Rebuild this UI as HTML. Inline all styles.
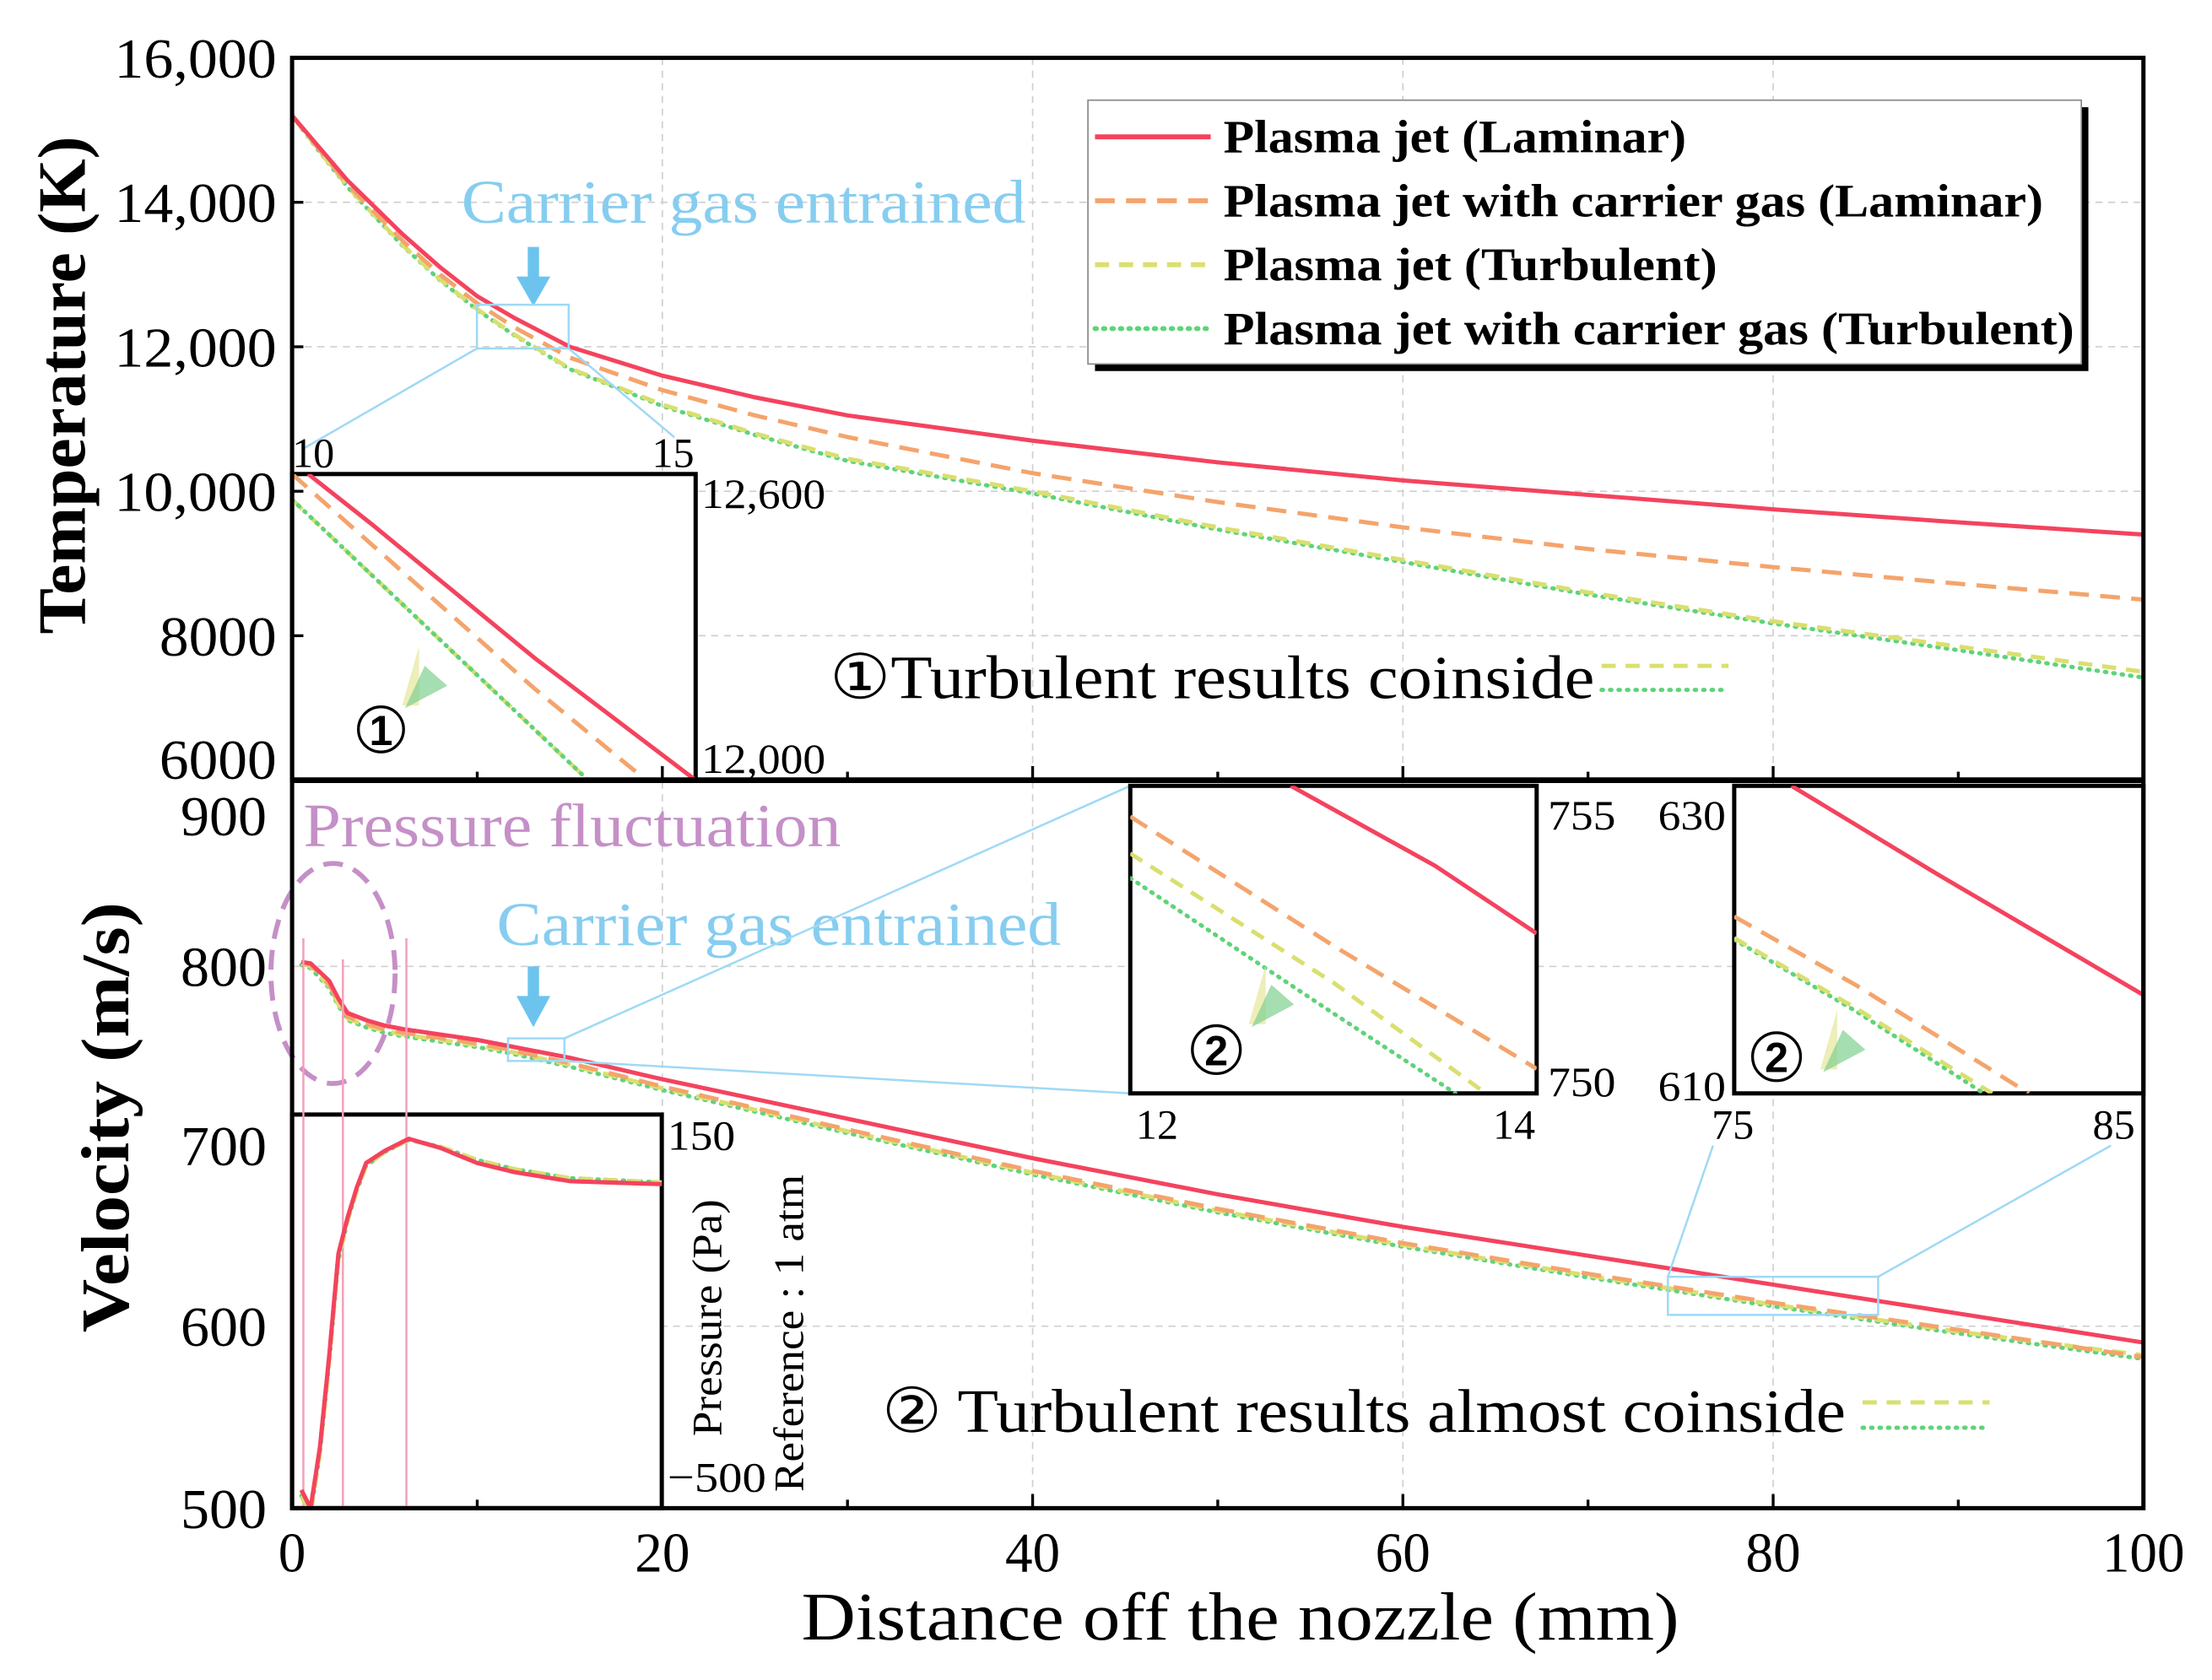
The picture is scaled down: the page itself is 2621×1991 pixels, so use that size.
<!DOCTYPE html>
<html><head><meta charset="utf-8"><style>
html,body{margin:0;padding:0;background:#fff}
svg{display:block;font-family:"Liberation Serif",serif}
</style></head><body>
<svg id="chart" width="2621" height="1991" viewBox="0 0 1567.6 1190.8" preserveAspectRatio="none" xmlns="http://www.w3.org/2000/svg">
<defs>
<clipPath id="cTop"><rect x="207" y="41" width="1312" height="512"/></clipPath>
<clipPath id="cBot"><rect x="207" y="553" width="1312" height="516"/></clipPath>
<clipPath id="cI1"><rect x="207" y="336" width="286" height="217"/></clipPath>
<clipPath id="cI2a"><rect x="801" y="557" width="288" height="218"/></clipPath>
<clipPath id="cI2b"><rect x="1229" y="557" width="290" height="218"/></clipPath>
<clipPath id="cP"><rect x="207" y="790" width="262" height="279"/></clipPath>
</defs>
<g id="grid" stroke="#cfcfcf" stroke-width="1" stroke-dasharray="5 4"></g>
<g id="main"></g>
<g id="annot">
<text x="327" y="158" font-size="44" fill="#86cdf0" textLength="400" lengthAdjust="spacingAndGlyphs">Carrier gas entrained</text>
<line x1="378" y1="175" x2="378" y2="198" stroke="#6cc4ee" stroke-width="8"/>
<polygon points="366,196 390,196 378,217" fill="#6cc4ee"/>
<rect x="338" y="216" width="65" height="31" fill="none" stroke="#9fd9f5" stroke-width="1.5"/>
<line x1="338" y1="247" x2="215" y2="318" stroke="#9fd9f5" stroke-width="1.5"/>
<line x1="403" y1="247" x2="478" y2="310" stroke="#9fd9f5" stroke-width="1.5"/>
<text x="215" y="600" font-size="44" fill="#c58fc8" textLength="381" lengthAdjust="spacingAndGlyphs">Pressure fluctuation</text>
<ellipse cx="236" cy="690" rx="44" ry="78" fill="none" stroke="#c58fc8" stroke-width="3.5" stroke-dasharray="14 8"/>
<text x="352" y="670" font-size="44" fill="#86cdf0" textLength="400" lengthAdjust="spacingAndGlyphs">Carrier gas entrained</text>
<line x1="378" y1="685" x2="378" y2="708" stroke="#6cc4ee" stroke-width="8"/>
<polygon points="366,706 390,706 378,728" fill="#6cc4ee"/>
<rect x="360" y="736" width="40" height="16" fill="none" stroke="#9fd9f5" stroke-width="1.5"/>
<line x1="400" y1="736" x2="801" y2="557" stroke="#9fd9f5" stroke-width="1.5"/>
<line x1="400" y1="752" x2="801" y2="775" stroke="#9fd9f5" stroke-width="1.5"/>
<rect x="1182" y="905" width="149" height="27" fill="none" stroke="#9fd9f5" stroke-width="1.5"/>
<line x1="1182" y1="905" x2="1214" y2="812" stroke="#9fd9f5" stroke-width="1.5"/>
<line x1="1331" y1="905" x2="1496" y2="812" stroke="#9fd9f5" stroke-width="1.5"/>
<text x="588" y="495" font-size="44" fill="#000" textLength="542" lengthAdjust="spacingAndGlyphs">①Turbulent results coinside</text>
<line x1="1135" y1="472" x2="1225" y2="472" stroke="#d9df6f" stroke-width="3" stroke-dasharray="10 7"/>
<line x1="1135" y1="489" x2="1225" y2="489" stroke="#5fd37a" stroke-width="3" stroke-dasharray="1 5" stroke-linecap="round"/>
<text x="625" y="1015" font-size="44" fill="#000" textLength="683" lengthAdjust="spacingAndGlyphs">② Turbulent results almost coinside</text>
<line x1="1320" y1="994" x2="1410" y2="994" stroke="#d9df6f" stroke-width="3" stroke-dasharray="10 7"/>
<line x1="1320" y1="1012" x2="1410" y2="1012" stroke="#5fd37a" stroke-width="3" stroke-dasharray="1 5" stroke-linecap="round"/>
</g>
<g id="insets"></g>
<g id="axes" font-size="34"></g>
<g id="legend">
<rect x="776" y="76" width="704" height="187" fill="#000"/>
<rect x="771" y="71" width="704" height="187" fill="#fff" stroke="#888" stroke-width="1"/>
</g>
</svg>
<script>
const tX = [0,1,2,3,4,5,6,8,10,12,15,20,25,30,40,50,60,70,80,90,100];
const tLam = [15200,14900,14600,14300,14050,13800,13550,13100,12700,12400,12000,11600,11300,11050,10700,10400,10150,9950,9750,9570,9400];
const tLamCG = [15200,14880,14560,14250,13980,13720,13460,13000,12600,12270,11850,11400,11050,10750,10250,9850,9500,9200,8950,8720,8500];
const tTur = [15200,14870,14540,14220,13940,13670,13400,12930,12520,12170,11700,11200,10800,10450,10000,9500,9050,8600,8200,7850,7500];
const tTurCG = [15200,14860,14530,14210,13930,13660,13390,12920,12510,12160,11690,11180,10780,10420,9970,9470,9020,8570,8170,7800,7420];
const vX = [0.5,1,2,2.5,3,4,5,6,8,10,12,15,20,25,30,40,50,60,70,80,90,100];
const vLam = [803,802,792,782,774,770,767,765,762,759,755,749,737,726,715,693,673,655,639,623,607,591];
const vLamCG = [803,801,790,780,772,768,765,763,760,757,753,746,733,721,709,686,665,646,629,613,598,583];
const vTur = [802,800,789,779,771,767,764,762,759,756,752,745,732,720,708,685,664,645,628,612,597,584];
const vTurCG = [801,799,788,778,770,766,763,761,758,755,751,744,731,719,707,684,663,644,627,611,596,582];
const pX = [0.5,1,1.5,2,2.5,3,3.5,4,5,6.3,8,10,12,15,20];
const pVal = [-470,-500,-400,-250,-80,-20,30,70,90,110,95,70,55,40,35];
const pValCG = [-480,-510,-410,-260,-90,-25,25,65,88,108,97,75,60,45,38];
const i1LamX = [10.2,11,12,13,14,15], i1Lam = [12600,12500,12370,12240,12120,12000];
const i1CgX = [10,11,12,13,14,14.7], i1Cg = [12600,12460,12320,12180,12050,11960];
const i1TurX = [10,11,12,13,13.8], i1Tur = [12550,12400,12250,12100,11980];
const i2aLamX = [12.79,13.5,14], i2aLam = [755,753.7,752.6];
const i2aCgX = [12,13,14], i2aCg = [754.5,752.4,750.4];
const i2aTurX = [12,13,13.75], i2aTur = [753.9,751.8,750];
const i2aTcgX = [12,13,13.6], i2aTcg = [753.5,751.3,750];
const i2bLamX = [76.4,80,85], i2bLam = [630,624.2,616.4];
const i2bCgX = [75,78,82.2], i2bCg = [621.5,617,610];
const i2bTurX = [75,78,81.3], i2bTur = [620.1,615.5,610];
const i2bTcgX = [75,78,81.1], i2bTcg = [620,615.3,610];
const xTicks = [0,20,40,60,80,100];
const tTicks = [6000,8000,10000,12000,14000,16000];
const tTickLabels = ['6000','8000','10,000','12,000','14,000','16,000'];
const vTicks = [500,600,700,800,900];
const vTickPos = [1069,940,812,685,578];
const legendLabels = ['Plasma jet (Laminar)','Plasma jet with carrier gas (Laminar)','Plasma jet (Turbulent)','Plasma jet with carrier gas (Turbulent)'];
const legendWidths = [328,581,350,603];

const NS='http://www.w3.org/2000/svg';
const X = x => 207 + x*13.12;
const YT = v => 41 + (16000-v)/10000*512;
function YV(v){
  for(let i=0;i<vTicks.length-1;i++){ if(v<=vTicks[i+1]||i===vTicks.length-2){
    const t=(v-vTicks[i])/(vTicks[i+1]-vTicks[i]); return vTickPos[i]+t*(vTickPos[i+1]-vTickPos[i]); } }
}
const I1X=x=>207+(x-10)/5*286, I1Y=v=>553-(v-12000)/600*217;
const I2aX=x=>801+(x-12)/2*288, I2aY=v=>775-(v-750)/5*218;
const I2bX=x=>1229+(x-75)/10*290, I2bY=v=>775-(v-610)/20*218;
const PX=x=>207+x*13.12, PY=p=>790+(150-p)/650*279;
const STY = {
  lam:{c:'#f4435e',w:3,d:null,cap:'butt'},
  cg:{c:'#f4a46c',w:3,d:'14 8',cap:'butt'},
  tur:{c:'#d9df6f',w:3,d:'10 7',cap:'butt'},
  tcg:{c:'#5fd37a',w:3,d:'1 5',cap:'round'}
};
function el(tag,attrs,parent){const e=document.createElementNS(NS,tag);for(const k in attrs)e.setAttribute(k,attrs[k]);parent.appendChild(e);return e;}
function line(xs,ys,fx,fy,st,clip,parent,name){
  const d=xs.map((x,i)=>(i?'L':'M')+fx(x).toFixed(2)+' '+fy(ys[i]).toFixed(2)).join(' ');
  const s=STY[st];
  const p=el('path',{d:d,fill:'none',stroke:s.c,'stroke-width':s.w,'stroke-linecap':s.cap,'stroke-linejoin':'round','clip-path':'url(#'+clip+')'},parent);
  if(s.d)p.setAttribute('stroke-dasharray',s.d);
  
  
  return p;
}
const grid=document.getElementById('grid');
[20,40,60,80].forEach(x=>{el('line',{x1:X(x),x2:X(x),y1:41,y2:1069},grid);});
[8000,10000,12000,14000].forEach(v=>{el('line',{x1:207,x2:1519,y1:YT(v),y2:YT(v)},grid);});
[600,800].forEach(v=>{el('line',{x1:207,x2:1519,y1:YV(v),y2:YV(v)},grid);});

const main=document.getElementById('main');
line(tX,tTurCG,X,YT,'tcg','cTop',main,'temp-turbulent-carrier-line');
line(tX,tTur,X,YT,'tur','cTop',main,'temp-turbulent-line');
line(tX,tLamCG,X,YT,'cg','cTop',main,'temp-laminar-carrier-line');
line(tX,tLam,X,YT,'lam','cTop',main,'temp-laminar-line');
line(vX,vTurCG,X,YV,'tcg','cBot',main,'vel-turbulent-carrier-line');
line(vX,vTur,X,YV,'tur','cBot',main,'vel-turbulent-line');
line(vX,vLamCG,X,YV,'cg','cBot',main,'vel-laminar-carrier-line');
line(vX,vLam,X,YV,'lam','cBot',main,'vel-laminar-line');

const ins=document.getElementById('insets');
function box(x,y,w,h,name){const r=el('rect',{x:x,y:y,width:w,height:h,fill:'#fff',stroke:'#000','stroke-width':3},ins);
  
  }
function txt(x,y,s,size,parent,name,extra,len){const t=el('text',Object.assign({x:x,y:y,'font-size':size},extra||{}),parent);t.textContent=s;
  if(len){t.setAttribute('textLength',len);t.setAttribute('lengthAdjust','spacingAndGlyphs');}
  
  return t;}
function arrowMark(cx,cy){el('polygon',{points:(cx-10)+','+(cy+20)+' '+(cx+2)+','+(cy-22)+' '+(cx+2)+','+(cy+20),fill:'#e9eaa6',opacity:0.8},ins);
  el('polygon',{points:(cx-8)+','+(cy+22)+' '+(cx+6)+','+(cy-8)+' '+(cx+22)+','+(cy+6),fill:'#7fd08f',opacity:0.7},ins);}
// inset 1
box(207,336,286,217,'inset-temperature-zoom');
line(i1TurX,i1Tur,I1X,I1Y,'tur','cI1',ins,'inset1-turbulent');
line(i1TurX,i1Tur,I1X,I1Y,'tcg','cI1',ins,'inset1-turbulent-carrier');
line(i1CgX,i1Cg,I1X,I1Y,'cg','cI1',ins,'inset1-laminar-carrier');
line(i1LamX,i1Lam,I1X,I1Y,'lam','cI1',ins,'inset1-laminar');
arrowMark(295,480);
el('circle',{cx:270,cy:517,r:16,fill:'none',stroke:'#000','stroke-width':2},ins);
txt(270,528,'1',30,ins,'inset1-marker',{'text-anchor':'middle','font-weight':'bold','font-family':'Liberation Sans, sans-serif'});
txt(207,331,'10',30,ins,'inset1-x-min',null,30);
txt(462,331,'15',30,ins,'inset1-x-max',null,30);
txt(497,360,'12,600',30,ins,'inset1-y-max',null,88);
txt(497,548,'12,000',30,ins,'inset1-y-min',null,88);
// inset 2a
box(801,557,288,218,'inset-velocity-zoom-a');
line(i2aTcgX,i2aTcg,I2aX,I2aY,'tcg','cI2a',ins,'inset2a-turbulent-carrier');
line(i2aTurX,i2aTur,I2aX,I2aY,'tur','cI2a',ins,'inset2a-turbulent');
line(i2aCgX,i2aCg,I2aX,I2aY,'cg','cI2a',ins,'inset2a-laminar-carrier');
line(i2aLamX,i2aLam,I2aX,I2aY,'lam','cI2a',ins,'inset2a-laminar');
arrowMark(895,706);
el('circle',{cx:862,cy:744,r:17,fill:'none',stroke:'#000','stroke-width':2},ins);
txt(862,755,'2',30,ins,'inset2a-marker',{'text-anchor':'middle','font-weight':'bold','font-family':'Liberation Sans, sans-serif'});
txt(1097,588,'755',30,ins,'inset2a-y-max',null,48);
txt(1097,777,'750',30,ins,'inset2a-y-min',null,48);
txt(805,807,'12',30,ins,'inset2a-x-min',null,30);
txt(1058,807,'14',30,ins,'inset2a-x-max',null,30);
// inset 2b
box(1229,557,290,218,'inset-velocity-zoom-b');
line(i2bTcgX,i2bTcg,I2bX,I2bY,'tcg','cI2b',ins,'inset2b-turbulent-carrier');
line(i2bTurX,i2bTur,I2bX,I2bY,'tur','cI2b',ins,'inset2b-turbulent');
line(i2bCgX,i2bCg,I2bX,I2bY,'cg','cI2b',ins,'inset2b-laminar-carrier');
line(i2bLamX,i2bLam,I2bX,I2bY,'lam','cI2b',ins,'inset2b-laminar');
arrowMark(1300,738);
el('circle',{cx:1259,cy:749,r:17,fill:'none',stroke:'#000','stroke-width':2},ins);
txt(1259,760,'2',30,ins,'inset2b-marker',{'text-anchor':'middle','font-weight':'bold','font-family':'Liberation Sans, sans-serif'});
txt(1175,588,'630',30,ins,'inset2b-y-max',null,48);
txt(1175,780,'610',30,ins,'inset2b-y-min',null,48);
txt(1213,807,'75',30,ins,'inset2b-x-min',null,30);
txt(1483,807,'85',30,ins,'inset2b-x-max',null,30);
// pressure inset
box(207,790,262,279,'inset-pressure');
el('line',{x1:215,x2:215,y1:665,y2:1069,stroke:'#f4a0b8','stroke-width':1.5},ins);
el('line',{x1:243,x2:243,y1:680,y2:1069,stroke:'#f4a0b8','stroke-width':1.5},ins);
el('line',{x1:288,x2:288,y1:665,y2:1069,stroke:'#f4a0b8','stroke-width':1.5},ins);
line(pX,pValCG,PX,PY,'tcg','cP',ins,'pressure-turbulent-carrier');
line(pX,pValCG,PX,PY,'tur','cP',ins,'pressure-turbulent');
line(pX,pVal,PX,PY,'cg','cP',ins,'pressure-laminar-carrier');
line(pX,pVal,PX,PY,'lam','cP',ins,'pressure-laminar');
txt(473,815,'150',30,ins,'pressure-y-max',null,48);
txt(473,1057,'−500',30,ins,'pressure-y-min',null,70);
txt(0,0,'Pressure (Pa)',30,ins,'pressure-axis-title',{transform:'translate(511,934) rotate(-90)','text-anchor':'middle'},168);
txt(0,0,'Reference : 1 atm',30,ins,'pressure-reference-note',{transform:'translate(569,945) rotate(-90)','text-anchor':'middle'},225);

// axes
const ax=document.getElementById('axes');
el('rect',{x:207,y:41,width:1312,height:1028,fill:'none',stroke:'#000','stroke-width':3},ax);
el('line',{x1:207,x2:1519,y1:553,y2:553,stroke:'#000','stroke-width':4},ax);
for(let x=10;x<100;x+=10){el('line',{x1:X(x),x2:X(x),y1:553,y2:x%20===0?543:547,stroke:'#000','stroke-width':2},ax);
  el('line',{x1:X(x),x2:X(x),y1:1069,y2:x%20===0?1059:1063,stroke:'#000','stroke-width':2},ax);}
xTicks.forEach(x=>{const w=String(x).length*19.5;txt(X(x),1114,String(x),40,ax,'x-tick-'+x,{'text-anchor':'middle'},w);});
tTicks.forEach((v,i)=>{const y=i===0?552:YT(v)+14;const w=tTickLabels[i].length>4?115:83;
  txt(196-w,y,tTickLabels[i],40,ax,'temp-tick-'+v,null,w);
  el('line',{x1:207,x2:215,y1:YT(v),y2:YT(v),stroke:'#000','stroke-width':2},ax);});
vTicks.forEach((v,i)=>{txt(128,vTickPos[i]+14,String(v),40,ax,'vel-tick-'+v,null,61);});
txt(0,0,'Temperature (K)',48,ax,'temp-axis-title',{transform:'translate(60,273) rotate(-90)','text-anchor':'middle','font-weight':'bold'},353);
txt(0,0,'Velocity (m/s)',48,ax,'vel-axis-title',{transform:'translate(91,792) rotate(-90)','text-anchor':'middle','font-weight':'bold'},305);
txt(568,1162,'Distance off the nozzle (mm)',48,ax,'x-axis-title',null,622);

// legend
const lg=document.getElementById('legend');
const keys=['lam','cg','tur','tcg'];
legendLabels.forEach((lab,i)=>{const y=97+i*45.3;const s=STY[keys[i]];
  const l=el('line',{x1:776,x2:858,y1:y,y2:y,stroke:s.c,'stroke-width':3.5,'stroke-linecap':s.cap},lg);
  if(s.d)l.setAttribute('stroke-dasharray',s.d);
  
  
  txt(867,y+11,lab,33,lg,'legend-entry-'+keys[i],{'font-weight':'bold'},legendWidths[i]);
});
</script>
</body></html>
